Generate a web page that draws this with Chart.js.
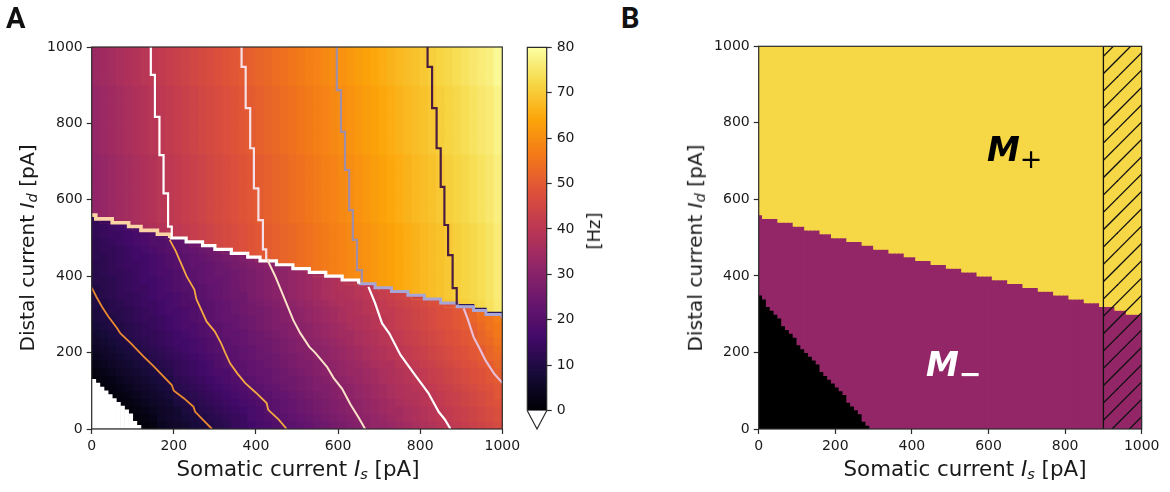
<!DOCTYPE html>
<html>
<head>
<meta charset="utf-8">
<title>Somatic and distal current maps</title>
<script src="https://cdn.jsdelivr.net/npm/chart.js@4/dist/chart.umd.min.js"></script>
<style>
    html, body { margin: 0; padding: 0; background: #fff; width: 1170px; height: 492px; overflow: hidden; }
    canvas { position: absolute; top: 0; filter: blur(0.4px); }
    .txt { position: absolute; font-family: "DejaVu Sans", sans-serif; color: #1a1a1a; white-space: nowrap; line-height: 1; }
    .axis { font-size: 21.4px; }
    .axis sub { font-size: 14.5px; line-height: 0; vertical-align: -3px; }
    .rot { transform: translate(-50%, -50%) rotate(-90deg); font-size: 20.2px; }
    .hor { transform: translate(-50%, -50%); }
    .panel { font-family: Roboto, sans-serif; font-weight: 700; font-size: 29px; color: #111; }
    .state { font-weight: 700; font-style: italic; font-size: 33px; }
    .state span { font-style: normal; font-weight: 400; font-size: 27px; vertical-align: -7px; line-height: 0; }
</style>
</head>
<body>
<canvas id="heatChart" width="525" height="492" style="left:0"></canvas>
<canvas id="barChart" width="100" height="492" style="left:515px"></canvas>
<canvas id="stateChart" width="520" height="492" style="left:650px"></canvas>

<div class="txt panel" style="left:6px;top:4px">A</div>
<div class="txt panel" style="left:621px;top:4px">B</div>
<div class="txt axis hor" style="left:298px;top:469px">Somatic current <i>I</i><sub><i>s</i></sub> [pA]</div>
<div class="txt axis rot" style="left:27px;top:248px">Distal current <i>I</i><sub><i>d</i></sub> [pA]</div>
<div class="txt axis hor" style="left:965px;top:469px">Somatic current <i>I</i><sub><i>s</i></sub> [pA]</div>
<div class="txt axis rot" style="left:695px;top:248px">Distal current <i>I</i><sub><i>d</i></sub> [pA]</div>
<div class="txt axis rot" style="left:594px;top:231px;font-size:18px">[Hz]</div>
<div class="txt state" style="left:987px;top:133px;color:#000">M<span>+</span></div>
<div class="txt state" style="left:926px;top:348px;color:#fff">M<span style="font-weight:700">−</span></div>

<script>
// Axis ticks
const currentTicks = [0, 200, 400, 600, 800, 1000];
const rateTicks = [0, 10, 20, 30, 40, 50, 60, 70, 80];

// Firing rate [Hz] upper region rows
const upper0 = [33.5,34.5,35.4,36.4,37.4,38.3,39.3,40.3,41.2,42.1,43,43.9,44.8,45.7,46.6,47.5,48.4,49.3,50.2,51.1,52,52.8,53.7,54.6,55.4,56.3,57.2,58,58.9,59.8,60.7,61.6,62.5,63.4,64.3,65.2,66.1,67,67.9,68.7,69.6,70.5,71.5,72.4,73.3,74.3,75.2,76.1,77,78.8];
const upper1 = [32.6,33.5,34.5,35.4,36.4,37.4,38.3,39.3,40.3,41.2,42.1,43,43.9,44.8,45.7,46.6,47.5,48.4,49.3,50.2,51.1,52,52.8,53.7,54.6,55.4,56.3,57.2,58,58.9,59.8,60.7,61.6,62.5,63.4,64.3,65.2,66.1,67,67.9,68.7,69.6,70.5,71.5,72.4,73.3,74.3,75.2,76.1,77.5];
const upper2 = [31.6,32.6,33.5,34.5,35.4,36.4,37.4,38.3,39.3,40.3,41.2,42.1,43,43.9,44.8,45.7,46.6,47.5,48.4,49.3,50.2,51.1,52,52.8,53.7,54.6,55.4,56.3,57.2,58,58.9,59.8,60.7,61.6,62.5,63.4,64.3,65.2,66.1,67,67.9,68.7,69.6,70.5,71.5,72.4,73.3,74.3,75.2,76.8];
const upper3 = [30.7,31.6,32.6,33.5,34.5,35.4,36.4,37.4,38.3,39.3,40.3,41.2,42.1,43,43.9,44.8,45.7,46.6,47.5,48.4,49.3,50.2,51.1,52,52.8,53.7,54.6,55.4,56.3,57.2,58,58.9,59.8,60.7,61.6,62.5,63.4,64.3,65.2,66.1,67,67.9,68.7,69.6,70.5,71.5,72.4,73.3,74.5,76];
const upper4 = [29.8,30.7,31.6,32.6,33.5,34.5,35.4,36.4,37.4,38.3,39.3,40.3,41.2,42.1,43,43.9,44.8,45.7,46.6,47.5,48.4,49.3,50.2,51.1,52,52.8,53.7,54.6,55.4,56.3,57.2,58,58.9,59.8,60.7,61.6,62.5,63.4,64.3,65.2,66.1,67,67.9,68.7,69.6,70.5,71.5,72.6,74,75.5];

// lower part of a row, the rest of it comes from the upper row
function mixed(lower, upper) {
    return lower.concat(upper.slice(lower.length));
}

// Rows from Id = 0 upward, 20 pA cells
const heatRows = [
    [0,0,0,0,0,0,1,2,4,5,6,7,8,9,10,11,12,14,15,16,17,18,19,20,21,22,23,24,25,26,27,28,29,31,32,32,33,34,35,36,37,38,39,40,41,42,43,44,45,46],
    [0,0,0,0,0,1,2,3,5,6,7,8,9,10,11,12,13,14,15,17,18,19,20,21,22,23,24,25,26,27,28,29,30,31,32,33,34,35,36,37,38,39,40,41,42,43,44,45,46,47],
    [0,0,0,0,1,2,3,4,5,6,7,9,10,11,12,13,14,15,16,17,18,20,21,22,23,24,25,26,27,28,29,30,31,32,33,34,35,35,36,37,38,39,40,41,42,43,44,45,46,47],
    [0,0,0,1,2,3,4,5,6,7,9,10,11,12,13,14,15,16,17,18,19,20,21,22,23,24,25,26,27,28,29,30,31,32,33,34,35,36,37,38,39,40,41,42,43,44,45,46,47,48],
    [0,0,1,2,3,4,5,6,7,8,10,11,12,13,14,15,16,17,18,19,20,21,22,23,24,25,26,27,28,29,30,31,32,33,34,35,36,37,38,38,39,40,41,42,43,44,45,46,47,49],
    [0,1,2,3,4,5,6,7,8,9,11,12,13,14,15,16,17,18,19,20,21,22,23,24,25,26,27,28,28,29,30,31,32,33,34,35,36,37,38,39,40,41,42,43,44,45,46,47,48,49],
    [1,2,3,4,5,6,7,8,9,10,12,13,14,15,16,17,18,19,20,21,22,23,24,25,25,26,27,28,29,30,31,32,33,34,35,36,37,38,39,40,41,42,43,44,45,46,47,48,49,50],
    [2,3,4,5,6,7,8,9,10,11,13,14,15,16,17,18,18,20,21,22,23,23,24,25,26,27,28,29,30,31,32,33,33,34,35,36,37,38,39,40,41,42,43,44,45,46,47,48,49,51],
    [3,4,5,6,7,8,9,10,11,12,13,14,15,16,17,19,20,21,21,22,23,24,25,26,27,28,28,29,30,31,32,33,34,35,36,37,37,39,40,41,42,43,44,45,46,47,48,49,50,52],
    [4,5,6,7,8,9,10,11,12,13,14,15,16,17,18,19,20,21,22,23,24,24,25,26,27,28,29,30,31,32,33,34,35,36,37,38,39,40,41,42,43,44,45,46,47,48,49,50,52,53],
    [5,6,7,8,9,10,11,12,13,14,15,16,17,18,19,20,21,21,22,23,24,25,26,27,28,29,29,30,31,32,33,34,35,36,37,38,39,40,41,42,43,44,45,46,47,48,49,50,52,54],
    [6,7,8,9,10,11,12,13,14,15,16,16,17,18,19,20,21,22,23,24,25,25,26,27,28,29,30,31,32,33,34,35,36,37,38,39,40,41,42,43,44,45,46,47,48,49,50,52,53,55],
    [7,8,9,10,11,12,13,13,14,15,16,17,18,19,20,21,22,22,23,24,25,26,27,28,29,30,31,32,33,34,35,35,36,37,38,39,40,41,42,43,44,45,46,47,48,49,50,52,54,56],
    [8,9,10,10,11,12,13,14,15,16,17,18,18,19,20,21,22,23,24,25,26,27,28,28,29,30,31,32,33,34,35,36,37,38,39,40,41,42,43,44,45,46,47,48,49,50,51,53,55,56],
    [9,10,10,11,12,13,14,14,15,16,17,18,19,20,21,22,23,23,24,25,26,27,28,29,30,31,32,33,34,35,36,37,37,38,39,40,41,42,43,44,45,46,47,48,49,50,52,54,55,57],
    mixed([9,10,11,11,12,13,14,15,16,17,17,18,19,20,21,22,23,24,25,26,26,27,28,29,30,31,32,33,34,35,36,37,38,39,40,41,41,42,43,44,45,46,47,48,49,50,52], upper4),
    mixed([10,10,11,12,13,14,15,15,16,17,18,19,19,20,21,22,23,24,25,26,27,28,29,30,31,32,33,34,35,36,37,37,38,39,40,41,42,43,44,45,46,47,48], upper4),
    mixed([10,11,12,13,13,14,15,16,17,17,18,19,20,21,22,23,24,25,25,27,28,29,30,31,32,33,34,35,36,37,37,38,39,40,41,42,43,44,45], upper3),
    mixed([10,11,12,13,14,15,15,16,17,18,19,20,20,21,22,23,24,25,26,27,28,29,30,31,32,33,34,35,36,37,38,38,39,40,41], upper3),
    mixed([11,11,12,13,14,15,16,16,17,18,19,20,21,22,23,23,24,25,26,27,28,29,30,31,32,33,34,35,36,37,38], upper3),
    mixed([11,12,13,13,14,15,16,17,18,18,19,20,21,22,23,24,24,25,26,27,28,29,30,31,32,33,34], upper3),
    mixed([11,12,13,14,15,15,16,17,18,19,20,21,22,22,23,24,25,26,27,28,29,30,31], upper3),
    mixed([12,12,13,14,15,16,16,17,18,19,20,21,22,23,24,25,26,27,28,29], upper3),
    mixed([12,13,13,14,15,16,17,18,19,20,21,22,23,24,25,26], upper3),
    mixed([12,13,14,15,16,17,18,19,19,20,21,22], upper3),
    mixed([13,14,15,15,16,17,18,19,20], upper3),
    mixed([13,14,15,16,17], upper3),
    mixed([13], upper2),
    upper2, upper2, upper2, upper2, upper2, upper2, upper2, upper2,
    upper1, upper1, upper1, upper1, upper1, upper1, upper1, upper1, upper1,
    upper0, upper0, upper0, upper0, upper0
];

// Where each 20 pA column of heatRows changes from the lower to the upper region
const jumpCells = [560,540,540,540,540,520,520,520,520,500,500,500,480,480,480,480,460,460,460,460,440,440,440,420,420,420,420,400,400,400,400,380,380,380,380,360,360,360,360,340,340,340,340,320,320,320,320,300,300,300];

// Top of the silent (white) corner, 10 pA columns
const whiteTop = [130,120,110,100,90,80,70,60,50,40,20,10];

// Contour lines, pairs of [Is, Id]
const contour10 = [[0,370],[12,345],[25,320],[40,295],[61,265],[70,250],[95,225],[126,190],[150,165],[195,115],[200,100],[225,80],[248,58],[252,45],[270,25],[293,0]];
const contour20 = [[190,495],[205,465],[215,440],[231,400],[250,365],[255,340],[280,281],[300,255],[315,225],[325,200],[337,172],[355,145],[374,120],[400,95],[426,68],[430,50],[455,25],[475,0]];
const contour30 = [[427,445],[447,400],[470,340],[491,285],[508,251],[530,215],[544,200],[573,163],[589,134],[610,105],[630,65],[650,30],[666,0]];
const contour40 = [[674,372],[690,330],[707,277],[725,250],[752,194],[785,145],[820,94],[845,45],[860,25],[874,0]];
const contour50 = [[906,316],[915,290],[930,241],[945,210],[959,180],[980,145],[1000,121]];
const upperLine40 = [[144,1000],[154,927],[165,817],[175,717],[186,617],[195,530],[195,500]];
const upperLine50 = [[365,1000],[375,948],[386,840],[395,735],[406,630],[417,547],[425,470],[425,443]];
const upperLine60 = [[597,1000],[607,887],[617,778],[627,678],[636,573],[646,495],[658,416],[658,385]];
const upperLine70 = [[818,1000],[829,948],[840,840],[850,735],[859,634],[868,534],[879,455],[889,369],[889,325]];

// The jump between the two regions, split by line colour
const jumpOrange = [[0,560],[10,550],[50,540],[90,530],[120,520],[160,510],[190,500]];
const jumpWhite = [[190,500],[230,490],[270,480],[300,470],[340,460],[380,450],[410,440],[450,430],[490,420],[530,410],[570,400],[610,390],[650,380]];
const jumpLilac = [[650,380],[690,370],[730,360],[770,350],[810,340],[850,330],[890,320],[930,310],[960,300],[1000,290]];
const jumpDark = [[890,325],[930,315],[960,305],[1000,295]];

// Panel B, top of each 10 pA column
const blackTop = [350,340,320,310,300,290,270,260,250,240,220,210,200,190,180,170,150,140,130,120,110,100,90,70,60,50,40,20,10,0];
const magentaTop = [560,550,550,550,550,540,540,540,540,530,530,530,520,520,520,520,510,510,510,500,500,500,500,490,490,490,490,480,480,480,
    470,470,470,470,460,460,460,460,450,450,450,440,440,440,440,430,430,430,430,420,420,420,420,410,410,410,410,400,400,400,400,390,390,390,390,
    380,380,380,380,370,370,370,370,360,360,360,360,350,350,350,350,340,340,340,340,330,330,330,330,320,320,320,320,310,310,310,300,300,300,300];

// matplotlib inferno, every tenth of the range
const infernoStops = [[0,0,4],[22,11,57],[66,10,104],[106,23,110],[147,38,103],[188,55,84],[221,81,58],[243,120,25],[252,165,10],[246,215,70],[252,255,164]];

const RATE_MAX = 80;
const INK = '#2b2b2b';

function inferno(rate) {
    const t = Math.max(0, Math.min(1, rate / RATE_MAX)) * (infernoStops.length - 1);
    const i = Math.min(Math.floor(t), infernoStops.length - 2);
    const f = t - i;
    const a = infernoStops[i], b = infernoStops[i + 1];
    return `rgb(${a.map((c, k) => Math.round(c + (b[k] - c) * f)).join(',')})`;
}

function toPoints(pairs) {
    return pairs.map(p => ({ x: p[0], y: p[1] }));
}

function lineSet(pairs, color, width, stepped) {
    return {
        type: 'line',
        data: toPoints(pairs),
        borderColor: color,
        borderWidth: width,
        pointRadius: 0,
        fill: false,
        stepped: stepped || false,
        order: 1
    };
}

function heatCells() {
    const cells = [];
    heatRows.forEach((row, j) => {
        row.forEach((v, i) => {
            cells.push({ x: 10 + 20 * i, y: [20 * j, 20 * j + 20], v: v });
        });
    });
    return cells;
}

// heatRows only steps every 20 pA, panel B has the 10 pA edge. Patch the difference.
function jumpPatches() {
    const cells = [];
    magentaTop.forEach((top, k) => {
        const i = Math.floor(k / 2);
        const stair = jumpCells[i];
        const r = stair / 20;
        if (top > stair) cells.push({ x: 5 + 10 * k, y: [stair, top], v: heatRows[r - 1][i] });
        if (top < stair) cells.push({ x: 5 + 10 * k, y: [top, stair], v: heatRows[r][i] });
    });
    return cells;
}

// Draws the full box round the plot area
const frameBox = {
    id: 'frameBox',
    afterDraw(chart) {
        const a = chart.chartArea;
        const ctx = chart.ctx;
        ctx.save();
        ctx.strokeStyle = INK;
        ctx.lineWidth = 1.2;
        ctx.strokeRect(a.left, a.top, a.right - a.left, a.bottom - a.top);
        ctx.restore();
    }
};

function currentAxis(width) {
    return {
        type: 'linear',
        min: 0,
        max: 1000,
        offset: false,
        afterBuildTicks(scale) { scale.ticks = currentTicks.map(v => ({ value: v })); },
        afterFit(scale) { if (width) scale.width = width; else scale.height = 63; },
        border: { display: false },
        grid: { offset: false, drawOnChartArea: false, drawTicks: true, tickLength: 5, tickColor: INK, tickWidth: 1.2 },
        ticks: { autoSkip: false, maxRotation: 0, padding: 4, color: '#1a1a1a', font: { family: 'DejaVu Sans', size: 14 }, callback: v => String(v) }
    };
}

const commonOptions = {
    responsive: false,
    animation: false,
    devicePixelRatio: 1,
    plugins: { legend: { display: false }, tooltip: { enabled: false } }
};

function initializeHeatChart() {
    const cellStyle = {
        backgroundColor: c => (c.raw ? inferno(c.raw.v) : '#000'),
        borderWidth: 0,
        inflateAmount: 0.5,
        grouped: false
    };

    new Chart(document.getElementById('heatChart'), {
        type: 'bar',
        data: {
            datasets: [
                Object.assign({ data: heatCells(), barThickness: 8.22, order: 10 }, cellStyle),
                Object.assign({ data: jumpPatches(), barThickness: 4.11, order: 9 }, cellStyle),
                {
                    data: whiteTop.map((top, k) => ({ x: 5 + 10 * k, y: [0, top] })),
                    backgroundColor: '#ffffff',
                    borderWidth: 0,
                    inflateAmount: 0.3,
                    barThickness: 4.11,
                    grouped: false,
                    order: 8
                },
                lineSet(contour10, '#e98a30', 1.8),
                lineSet(contour20, '#f4a842', 1.8),
                lineSet(contour30, '#fbe2c8', 2),
                lineSet(contour40, '#ffffff', 2.2),
                lineSet(contour50, '#e8bfd8', 2.2),
                lineSet(upperLine40, '#ffffff', 2.2, 'after'),
                lineSet(upperLine50, '#f6dfe6', 2.2, 'after'),
                lineSet(upperLine60, '#a18ea6', 2.2, 'after'),
                lineSet(upperLine70, '#4a1d40', 2.2, 'after'),
                lineSet(jumpOrange, '#fbd3a5', 3.6, 'before'),
                lineSet(jumpOrange, '#ee9a3c', 1.4, 'before'),
                lineSet(jumpWhite, '#ffffff', 3.2, 'before'),
                lineSet(jumpLilac, '#a7a6d6', 3, 'before'),
                lineSet(jumpDark, '#2a1a60', 1.6, 'before')
            ]
        },
        options: Object.assign({}, commonOptions, {
            layout: { padding: { top: 47, right: 22.7, bottom: 0, left: 0 } },
            scales: {
                x: currentAxis(),
                y: Object.assign(currentAxis(91.7), { position: 'left' })
            }
        }),
        plugins: [frameBox]
    });
}

function initializeColorBar() {
    const levels = [];
    for (let v = 0; v < RATE_MAX; v += 0.5) levels.push({ x: 0.5, y: [v, v + 0.5] });

    new Chart(document.getElementById('barChart'), {
        type: 'bar',
        data: {
            datasets: [
                {
                    data: levels,
                    backgroundColor: c => (c.raw ? inferno(c.raw.y[0]) : '#000'),
                    borderWidth: 0,
                    inflateAmount: 0.6,
                    barThickness: 20,
                    order: 10
                },
                {
                    type: 'line',
                    data: toPoints([[0, 0], [0.5, -4.03], [1, 0]]),
                    borderColor: INK,
                    borderWidth: 1.2,
                    backgroundColor: '#fff',
                    fill: 'origin',
                    pointRadius: 0,
                    clip: false,
                    order: 2
                },
                {
                    type: 'line',
                    data: toPoints([[0, 0], [0, 80], [1, 80], [1, 0]]),
                    borderColor: INK,
                    borderWidth: 1.2,
                    pointRadius: 0,
                    clip: false,
                    order: 1
                }
            ]
        },
        options: Object.assign({}, commonOptions, {
            layout: { padding: { top: 47.3, right: 0, bottom: 63, left: 12.3 } },
            scales: {
                x: { type: 'linear', min: 0, max: 1, offset: false, display: false },
                y: {
                    position: 'right',
                    min: -4.03,
                    max: 80,
                    afterBuildTicks(scale) { scale.ticks = rateTicks.map(v => ({ value: v })); },
                    afterFit(scale) { scale.width = 68.3; },
                    border: { display: false },
                    grid: { drawOnChartArea: false, drawTicks: true, tickLength: 5, tickColor: INK, tickWidth: 1.2 },
                    ticks: { autoSkip: false, padding: 5, color: '#1a1a1a', font: { family: 'DejaVu Sans', size: 14 } }
                }
            }
        })
    });
}

function hatchPattern() {
    const tile = document.createElement('canvas');
    tile.width = 52;
    tile.height = 52;
    const ctx = tile.getContext('2d');
    ctx.strokeStyle = '#111';
    ctx.lineWidth = 1.3;
    for (let k = -1; k <= 7; k++) {
        const c = k * 52 / 3 + 7;
        ctx.beginPath();
        ctx.moveTo(c + 2, -2);
        ctx.lineTo(c - 60, 60);
        ctx.stroke();
    }
    return document.getElementById('stateChart').getContext('2d').createPattern(tile, 'repeat');
}

function initializeStateChart() {
    const columns = magentaTop.map((_, i) => 5 + 10 * i);
    const barStyle = { borderWidth: 0, inflateAmount: 0.5, barPercentage: 1, categoryPercentage: 1, grouped: false, order: 10 };

    new Chart(document.getElementById('stateChart'), {
        type: 'bar',
        data: {
            datasets: [
                Object.assign({
                    data: columns.map((x, i) => ({ x: x, y: [magentaTop[i], 1000] })),
                    backgroundColor: '#f6d746'
                }, barStyle),
                Object.assign({
                    data: columns.map((x, i) => ({ x: x, y: [blackTop[i] || 0, magentaTop[i]] })),
                    backgroundColor: '#932667'
                }, barStyle),
                Object.assign({
                    data: blackTop.map((top, i) => ({ x: columns[i], y: [0, top] })),
                    backgroundColor: '#000000'
                }, barStyle),
                {
                    type: 'line',
                    data: toPoints([[900, 0], [900, 1000], [1000, 1000], [1000, 0]]),
                    borderColor: '#111',
                    borderWidth: 1.3,
                    backgroundColor: hatchPattern(),
                    fill: 'origin',
                    pointRadius: 0,
                    order: 1
                }
            ]
        },
        options: Object.assign({}, commonOptions, {
            layout: { padding: { top: 46.3, right: 28.3, bottom: 0, left: 0 } },
            scales: {
                x: currentAxis(),
                y: Object.assign(currentAxis(108.7), { position: 'left' })
            }
        }),
        plugins: [frameBox]
    });
}

initializeHeatChart();
initializeColorBar();
initializeStateChart();
</script>
</body>
</html>
